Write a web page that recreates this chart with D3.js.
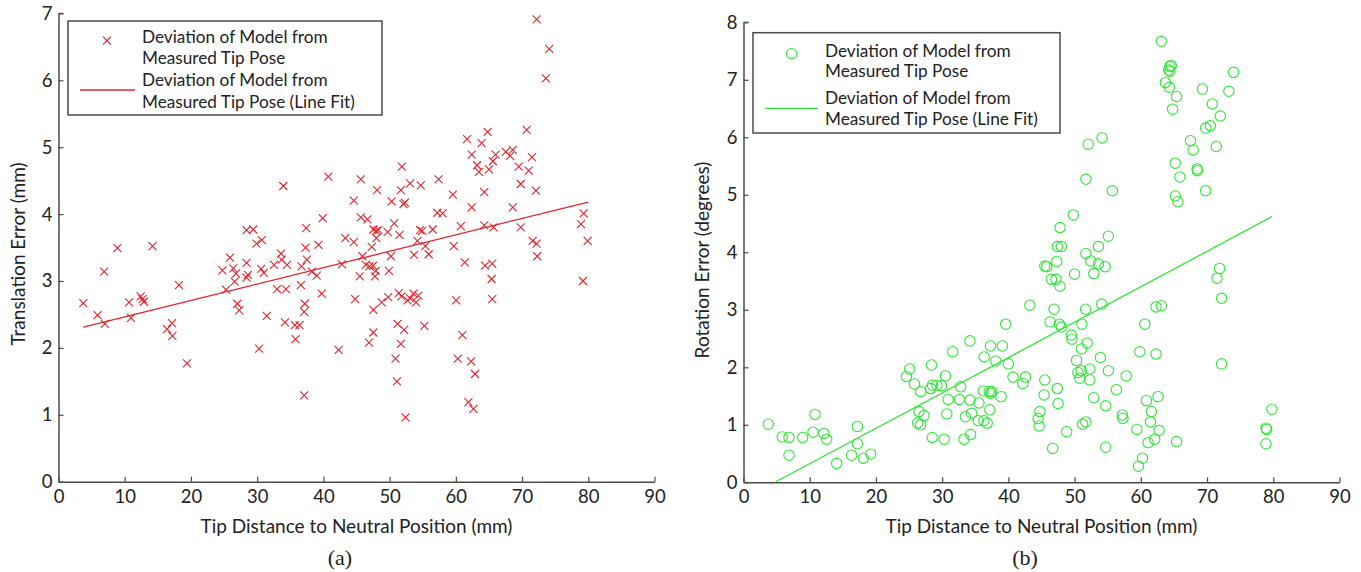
<!DOCTYPE html>
<html>
<head>
<meta charset="utf-8">
<script src="https://cdn.jsdelivr.net/npm/d3@7"></script>
<style>
  html, body { margin: 0; padding: 0; background: #fff; }
  svg { display: block; }
  text { font-family: Lato, "Open Sans", sans-serif; fill: #222; }
  text.caption { font-family: "Liberation Serif", "DejaVu Serif", serif; font-size: 22px; }
</style>
</head>
<body>
<svg id="chart" width="1361" height="572"></svg>
<script>
// panel (a): tip distance (mm) vs translation error (mm)
const translationPoints = [
  [3.75,2.67],[5.9,2.49],[6.9,3.14],[7.0,2.36],[8.9,3.49],[10.65,2.68],[10.95,2.45],[12.4,2.77],
  [12.7,2.73],[12.9,2.69],[14.2,3.52],[16.4,2.28],[17.15,2.37],[17.2,2.18],[18.2,2.94],[19.4,1.77],
  [24.75,3.16],[25.3,2.87],[25.9,3.35],[26.4,3.19],[26.8,3.11],[26.6,2.99],[27.0,2.66],[27.3,2.56],
  [28.4,3.27],[28.4,3.05],[28.6,3.09],[28.4,3.76],[29.4,3.77],[29.9,3.56],[30.7,3.61],[30.3,1.99],
  [30.6,3.18],[31.0,3.12],[31.45,2.48],[32.55,3.24],[33.0,2.88],[33.6,3.41],[33.7,3.32],[34.2,2.38],
  [34.35,2.88],[34.5,3.24],[35.7,2.34],[36.4,2.34],[35.8,2.13],[36.6,2.94],[36.7,3.22],[37.1,1.29],
  [37.2,2.66],[37.1,2.54],[37.3,3.50],[37.5,3.32],[38.25,3.14],[39.0,3.08],[39.25,3.54],[39.75,2.81],
  [42.3,1.97],[42.8,3.25],[33.95,4.42],[40.75,4.56],[39.9,3.94],[37.4,3.79],[72.2,6.91],[74.1,6.47],
  [73.6,6.03],[64.8,5.23],[70.7,5.26],[61.7,5.12],[63.9,5.06],[62.4,4.89],[66.0,4.89],[65.6,4.79],
  [67.55,4.93],[68.2,4.87],[68.6,4.96],[71.5,4.85],[63.2,4.73],[63.5,4.63],[65.0,4.67],[69.5,4.71],
  [71.0,4.65],[69.8,4.45],[72.1,4.35],[64.3,4.33],[51.85,4.71],[57.4,4.52],[45.65,4.52],[48.1,4.36],
  [51.7,4.36],[53.1,4.46],[54.7,4.43],[44.6,4.20],[50.3,4.19],[52.1,4.15],[52.3,4.17],[59.55,4.29],
  [62.4,4.10],[68.6,4.10],[79.3,4.01],[78.9,3.85],[79.9,3.60],[45.65,3.95],[46.65,3.92],[57.2,4.02],
  [58.0,4.01],[47.55,3.77],[48.0,3.75],[48.3,3.76],[49.7,3.73],[50.7,3.86],[51.5,3.69],[48.0,3.64],
  [54.6,3.76],[54.9,3.75],[56.5,3.77],[60.75,3.82],[64.3,3.83],[65.7,3.80],[69.8,3.80],[43.3,3.64],
  [44.6,3.58],[47.3,3.51],[54.2,3.60],[55.4,3.52],[59.7,3.52],[71.6,3.60],[72.2,3.56],[45.9,3.37],
  [46.4,3.24],[46.95,3.22],[47.5,3.23],[47.9,3.15],[45.5,3.07],[47.8,3.07],[50.2,3.37],[49.9,3.15],
  [53.7,3.39],[55.9,3.40],[61.35,3.28],[64.4,3.23],[65.5,3.26],[65.4,3.03],[65.5,2.73],[72.3,3.37],
  [79.2,3.00],[44.8,2.73],[47.55,2.57],[48.8,2.68],[49.8,2.76],[51.4,2.82],[51.8,2.77],[52.7,2.71],
  [53.1,2.74],[53.6,2.81],[54.0,2.68],[54.35,2.78],[60.05,2.71],[46.9,2.08],[47.55,2.23],[51.2,2.36],
  [52.2,2.27],[51.7,2.06],[55.25,2.33],[61.0,2.19],[50.9,1.84],[60.3,1.84],[62.3,1.80],[62.9,1.61],
  [51.1,1.50],[61.9,1.19],[62.65,1.09],[52.4,0.96]
];
const translationFit = [[3.75,2.31],[80,4.18]];

// panel (b): tip distance (mm) vs rotation error (degrees)
const rotationPoints = [
  [3.75,1.01],[5.86,0.79],[6.87,0.78],[6.87,0.47],[8.93,0.78],[10.5,0.87],[10.8,1.18],[12.15,0.85],
  [12.55,0.75],[14.07,0.33],[16.33,0.47],[17.2,0.97],[17.2,0.67],[18.1,0.42],[19.2,0.49],[24.6,1.84],
  [25.1,1.97],[25.8,1.71],[26.75,1.58],[26.5,1.23],[27.25,1.16],[26.3,1.03],[26.75,1.0],[28.4,2.04],
  [28.25,1.63],[28.55,1.69],[29.2,1.69],[29.9,1.68],[30.5,1.85],[30.9,1.44],[30.7,1.19],[28.5,0.78],
  [30.3,0.75],[31.6,2.27],[32.8,1.66],[32.6,1.44],[33.5,1.14],[34.2,1.43],[34.45,1.20],[33.3,0.75],
  [34.3,0.83],[34.2,2.46],[35.55,1.38],[35.45,1.07],[36.35,2.18],[36.2,1.59],[36.3,1.07],[36.8,1.03],
  [37.1,1.58],[37.3,1.55],[37.5,1.58],[37.2,1.26],[37.3,2.37],[38.1,2.11],[38.9,1.49],[39.1,2.37],
  [39.6,2.75],[40.0,2.06],[40.7,1.83],[42.2,1.72],[42.6,1.83],[43.25,3.08],[45.5,1.78],[45.4,1.52],
  [44.75,1.23],[44.5,1.11],[44.65,0.98],[46.7,0.59],[46.3,2.79],[46.9,3.01],[47.7,2.75],[48.0,2.70],
  [47.4,1.63],[47.5,1.37],[48.8,0.88],[49.5,2.56],[49.6,2.49],[50.3,2.12],[50.5,1.91],[51.0,1.94],
  [50.8,1.81],[52.3,1.78],[52.3,1.97],[51.1,2.75],[51.65,3.01],[51.05,2.32],[51.9,2.42],[52.9,1.47],
  [51.2,1.01],[51.7,1.05],[53.9,2.17],[54.1,3.10],[55.1,1.94],[54.7,1.33],[54.7,0.61],[56.3,1.61],
  [57.8,1.85],[57.2,1.17],[57.3,1.11],[59.4,0.92],[59.85,2.27],[60.25,0.42],[59.65,0.28],[60.6,2.75],
  [60.85,1.42],[61.1,0.69],[61.6,1.23],[61.45,1.05],[62.1,0.75],[62.3,3.05],[63.1,3.07],[62.3,2.23],
  [62.6,1.49],[62.75,0.90],[65.4,0.71],[71.9,3.72],[71.5,3.55],[72.2,3.20],[72.2,2.06],[79.8,1.27],
  [78.9,0.94],[79.0,0.92],[78.9,0.67],[47.4,4.10],[48.0,4.10],[45.5,3.76],[45.8,3.75],[47.3,3.84],
  [46.5,3.53],[47.2,3.53],[47.8,3.41],[50.0,3.62],[51.7,3.98],[52.45,3.85],[52.9,3.63],[53.6,4.10],
  [53.6,3.80],[54.6,3.75],[63.1,7.67],[64.4,7.23],[64.6,7.25],[64.2,7.17],[64.4,7.15],[63.7,6.95],
  [64.3,6.87],[65.4,6.71],[64.8,6.49],[74.0,7.13],[73.3,6.80],[69.3,6.84],[70.8,6.58],[72.0,6.37],
  [69.8,6.16],[70.5,6.20],[67.5,5.94],[67.9,5.78],[71.4,5.84],[65.2,5.55],[65.9,5.31],[68.5,5.45],
  [68.55,5.42],[69.8,5.07],[65.2,4.98],[65.6,4.88],[52.05,5.88],[54.15,5.99],[51.7,5.27],[55.7,5.07],
  [49.8,4.65],[47.8,4.43],[55.1,4.28]
];
const rotationFit = [[4.75,0],[79.8,4.62]];

const xTicks = [0, 10, 20, 30, 40, 50, 60, 70, 80, 90];
const translationTicks = [0, 1, 2, 3, 4, 5, 6, 7];
const rotationTicks = [0, 1, 2, 3, 4, 5, 6, 7, 8];
const legendLabels = [["Deviation of Model from", "Measured Tip Pose"],
                      ["Deviation of Model from", "Measured Tip Pose (Line Fit)"]];

const RED = "#e3222d";
const GREEN = "#2fe636";
const AXIS = "#4a4a4a";

const svg = d3.select("#chart");

function panel(opts) {
  const x = d3.scaleLinear().domain([0, 90]).range([opts.left, opts.right]);
  const y = d3.scaleLinear().domain([0, opts.yMax]).range([opts.bottom, opts.top]);
  const g = svg.append("g");

  // axes, ticks pointing inward like matlab
  const xAxis = g.append("g")
    .attr("transform", "translate(0," + opts.bottom + ")")
    .call(d3.axisBottom(x).tickValues(xTicks).tickFormat(d3.format("d"))
      .tickSizeInner(-5).tickSizeOuter(0).tickPadding(8));
  const yAxis = g.append("g")
    .attr("transform", "translate(" + opts.left + ",0)")
    .call(d3.axisLeft(y).tickValues(opts.yTicks).tickFormat(d3.format("d"))
      .tickSizeInner(-5).tickSizeOuter(0).tickPadding(6));
  [xAxis, yAxis].forEach(a => {
    a.select(".domain").attr("stroke", AXIS).attr("stroke-width", 1.5);
    a.selectAll(".tick line").attr("stroke", AXIS).attr("stroke-width", 1.2);
    a.selectAll(".tick text").attr("font-size", 18.5).attr("fill", "#222")
      .attr("font-family", "Lato, sans-serif");
  });
  // small stub at the top of the y axis
  g.append("line")
    .attr("x1", opts.left).attr("x2", opts.left + 5)
    .attr("y1", y(opts.yMax)).attr("y2", y(opts.yMax))
    .attr("stroke", AXIS).attr("stroke-width", 1.2);

  // points
  const pts = g.append("g");
  if (opts.marker === "x") {
    const s = 4;
    pts.selectAll("path").data(opts.points).enter().append("path")
      .attr("d", d => {
        const cx = x(d[0]), cy = y(d[1]);
        return "M" + (cx - s) + "," + (cy - s) + "L" + (cx + s) + "," + (cy + s) +
               "M" + (cx - s) + "," + (cy + s) + "L" + (cx + s) + "," + (cy - s);
      })
      .attr("stroke", opts.color).attr("stroke-width", 1.1).attr("fill", "none");
  } else {
    pts.selectAll("circle").data(opts.points).enter().append("circle")
      .attr("cx", d => x(d[0])).attr("cy", d => y(d[1])).attr("r", 5.2)
      .attr("stroke", opts.color).attr("stroke-width", 1.1).attr("fill", "none");
  }

  // line fit
  g.append("path")
    .datum(opts.fit)
    .attr("d", d3.line().x(d => x(d[0])).y(d => y(d[1])))
    .attr("stroke", opts.color).attr("stroke-width", 1.3).attr("fill", "none");

  // labels
  const cx = (opts.left + opts.right) / 2;
  g.append("text").attr("x", cx).attr("y", opts.bottom + 51)
    .attr("text-anchor", "middle").attr("font-size", 19).text("Tip Distance to Neutral Position (mm)");
  g.append("text").attr("class", "caption").attr("x", cx - 16.5).attr("y", 565)
    .attr("text-anchor", "middle")
    .text(opts.caption);
  g.append("text")
    .attr("transform", "translate(" + opts.yTitleX + "," + opts.yTitleY + ") rotate(-90)")
    .attr("text-anchor", "middle").attr("font-size", 19).text(opts.yTitle);

  // legend
  const L = opts.legend;
  const lg = g.append("g");
  lg.append("rect").attr("x", L.x).attr("y", L.y).attr("width", L.w).attr("height", L.h)
    .attr("fill", "#fff").attr("stroke", AXIS).attr("stroke-width", 1.5);
  if (opts.marker === "x") {
    const s = 4, mx = L.markX, my = L.rows[0] + 4;
    lg.append("path")
      .attr("d", "M" + (mx - s) + "," + (my - s) + "L" + (mx + s) + "," + (my + s) +
                 "M" + (mx - s) + "," + (my + s) + "L" + (mx + s) + "," + (my - s))
      .attr("stroke", opts.color).attr("stroke-width", 1.1);
  } else {
    lg.append("circle").attr("cx", L.markX).attr("cy", L.rows[0] + 3).attr("r", 5.2)
      .attr("stroke", opts.color).attr("stroke-width", 1.1).attr("fill", "none");
  }
  lg.append("line").attr("x1", L.lineX1).attr("x2", L.lineX2)
    .attr("y1", L.rows[2] + 10).attr("y2", L.rows[2] + 10)
    .attr("stroke", opts.color).attr("stroke-width", 1.3);
  const lines = legendLabels[0].concat(legendLabels[1]);
  lines.forEach((t, i) => {
    lg.append("text").attr("x", L.textX).attr("y", L.rows[i] + 6)
      .attr("font-size", 17.2).text(t);
  });
}

panel({
  left: 58.5, right: 654.5, top: 13.4, bottom: 481.7, yMax: 7,
  yTicks: translationTicks, points: translationPoints, fit: translationFit,
  marker: "x", color: RED, caption: "(a)", yTitle: "Translation Error (mm)", yTitleX: 25, yTitleY: 254,
  legend: { x: 68, y: 21, w: 314, h: 94, markX: 107, lineX1: 80, lineX2: 135, textX: 142,
            rows: [36.7, 58.3, 80, 101.7] }
});

panel({
  left: 743.5, right: 1339.5, top: 22.3, bottom: 482.3, yMax: 8,
  yTicks: rotationTicks, points: rotationPoints, fit: rotationFit,
  marker: "o", color: GREEN, caption: "(b)", yTitle: "Rotation Error (degrees)", yTitleX: 709, yTitleY: 260,
  legend: { x: 753, y: 32.7, w: 307, h: 100.3, markX: 791.7, lineX1: 765, lineX2: 818, textX: 825,
            rows: [50.7, 71, 98.3, 119] }
});
</script>
</body>
</html>
